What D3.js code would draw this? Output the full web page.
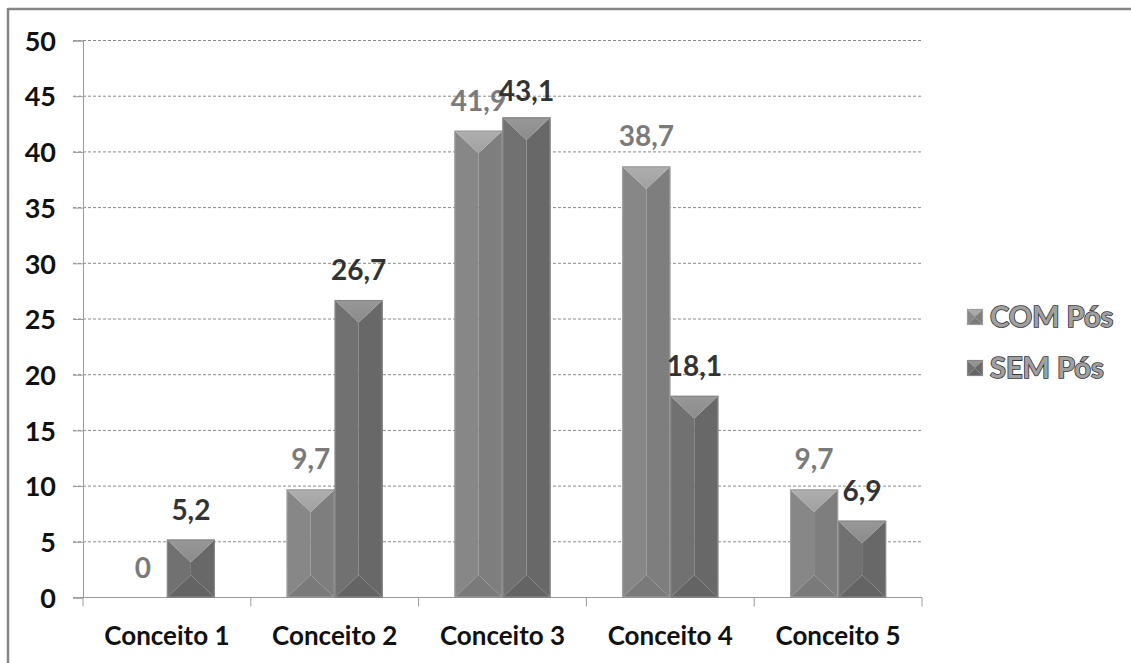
<!DOCTYPE html>
<html><head><meta charset="utf-8">
<script src="https://cdn.jsdelivr.net/npm/d3@7"></script>
<style>
html,body{margin:0;padding:0;background:#fff;}
svg{display:block;font-family:Lato,"Open Sans",sans-serif;font-weight:700;}
</style></head>
<body>
<svg id="c" width="1131" height="663"></svg>
<script>
const categories = ["Conceito 1","Conceito 2","Conceito 3","Conceito 4","Conceito 5"];
const seriesNames = ["COM Pós","SEM Pós"];
const comValues = [0, 9.7, 41.9, 38.7, 9.7];
const semValues = [5.2, 26.7, 43.1, 18.1, 6.9];
const yTicks = [0,5,10,15,20,25,30,35,40,45,50];
const fmt = v => String(v).replace(".", ",");

const palette = {
  "COM Pós": {left:"#878787", right:"#7e7e7e", top:"#a0a0a0", bottom:"#7a7a7a", edge:"#9c9c9c", label:"#7a7a7a"},
  "SEM Pós": {left:"#717171", right:"#686868", top:"#8b8b8b", bottom:"#646464", edge:"#888888", label:"#333333"}
};

const svg = d3.select("#c");
const defs = svg.append("defs");
Object.entries(palette).forEach(([k,c],i)=>{
  const gr = defs.append("linearGradient").attr("id","tg"+i).attr("x1",0).attr("x2",0).attr("y1",0).attr("y2",1);
  gr.append("stop").attr("offset","0%").attr("stop-color",d3.color(c.top).brighter(0.25));
  gr.append("stop").attr("offset","100%").attr("stop-color",c.top);
  c.topFill = "url(#tg"+i+")";
});

// outer frame (left and top edges visible)
svg.append("line").attr("x1",8).attr("x2",8).attr("y1",8).attr("y2",663).attr("stroke","#858585").attr("stroke-width",2.5);
svg.append("line").attr("x1",8).attr("x2",1131).attr("y1",9).attr("y2",9).attr("stroke","#858585").attr("stroke-width",2.5);

const y = d3.scaleLinear().domain([0,50]).range([597.5,40.5]);
const x = d3.scaleBand().domain(categories).range([83,922]).padding(0);
const xs = d3.scaleBand().domain(seriesNames).range([0,x.bandwidth()]).paddingInner(0).paddingOuter(0.748);

// gridlines
svg.append("g").selectAll("line").data(yTicks.filter(t=>t>0)).join("line")
  .attr("x1",73).attr("x2",922).attr("y1",d=>y(d)).attr("y2",d=>y(d))
  .attr("stroke","#8a8a8a").attr("stroke-width",1).attr("stroke-dasharray","3,2");

// y axis
const yAxis = d3.axisLeft(y).tickValues(yTicks).tickSize(10).tickPadding(17).tickFormat(d=>d);
const ya = svg.append("g").attr("transform","translate(83,0)").call(yAxis);
ya.select(".domain").attr("stroke","#9a9a9a");
ya.selectAll(".tick line").attr("stroke","#9a9a9a");
ya.selectAll(".tick text").attr("font-size",27).attr("font-family","Lato, sans-serif").attr("font-weight",700).attr("fill","#111").attr("dy","0.36em");

// x axis
svg.append("line").attr("x1",73).attr("x2",922).attr("y1",y(0)).attr("y2",y(0)).attr("stroke","#9a9a9a");
const bounds = categories.map(c=>x(c)).concat([x(categories[categories.length-1])+x.bandwidth()]);
svg.selectAll("line.xt").data(bounds).join("line")
  .attr("x1",d=>d).attr("x2",d=>d).attr("y1",y(0)).attr("y2",y(0)+9).attr("stroke","#9a9a9a");
svg.selectAll("text.cat").data(categories).join("text")
  .attr("x",d=>x(d)+x.bandwidth()/2).attr("y",645).attr("text-anchor","middle")
  .attr("font-size",26).attr("fill","#111").text(d=>d);

function bevelBar(sel, x0, x1, yt, yb, col){
  const w = x1-x0, xm = (x0+x1)/2;
  let d = w*0.47; if (yb-yt < 2*d) d = (yb-yt)/2;
  const P = pts => pts.map(p=>p.join(",")).join(" ");
  sel.append("polygon").attr("points",P([[x0,yt],[xm,yt+d],[xm,yb-d],[x0,yb]])).attr("fill",col.left);
  sel.append("polygon").attr("points",P([[x1,yt],[xm,yt+d],[xm,yb-d],[x1,yb]])).attr("fill",col.right);
  sel.append("polygon").attr("points",P([[x0,yt],[x1,yt],[xm,yt+d]])).attr("fill",col.topFill);
  sel.append("polygon").attr("points",P([[x0,yb],[x1,yb],[xm,yb-d]])).attr("fill",col.bottom);
  sel.append("rect").attr("x",x0+0.5).attr("y",yt+0.5).attr("width",w-1).attr("height",Math.max(0,yb-yt-1))
    .attr("fill","none").attr("stroke",col.edge).attr("stroke-width",1.2);
}

const data = [];
categories.forEach((c,i)=>{
  data.push({cat:c, s:"COM Pós", v:comValues[i]});
  data.push({cat:c, s:"SEM Pós", v:semValues[i]});
});

const bars = svg.append("g");
data.forEach(d=>{
  if (d.v<=0) return;
  const x0 = x(d.cat)+xs(d.s), x1 = x0+xs.bandwidth();
  bevelBar(bars.append("g"), x0, x1, y(d.v), y(0), palette[d.s]);
});

// data labels
svg.selectAll("text.lbl").data(data).join("text")
  .attr("x",d=>x(d.cat)+xs(d.s)+xs.bandwidth()/2)
  .attr("y",d=>y(d.v)-(d.s==="SEM Pós" && d.v>40 ? 16 : 20))
  .attr("text-anchor","middle").attr("font-size",28)
  .attr("fill",d=>palette[d.s].label).text(d=>fmt(d.v));

// legend
const leg = svg.append("g");
seriesNames.forEach((s,i)=>{
  const cy = 317 + i*51;
  bevelBar(leg.append("g"), 967, 983, cy-8, cy+8, palette[s]);
  leg.append("text").attr("x",990).attr("y",cy).attr("dy","0.36em")
    .attr("font-size",29).attr("fill","#a0a0a0").attr("stroke","#333333").attr("stroke-width",1.6)
    .attr("paint-order","stroke").text(s);
});
</script>
</body></html>
